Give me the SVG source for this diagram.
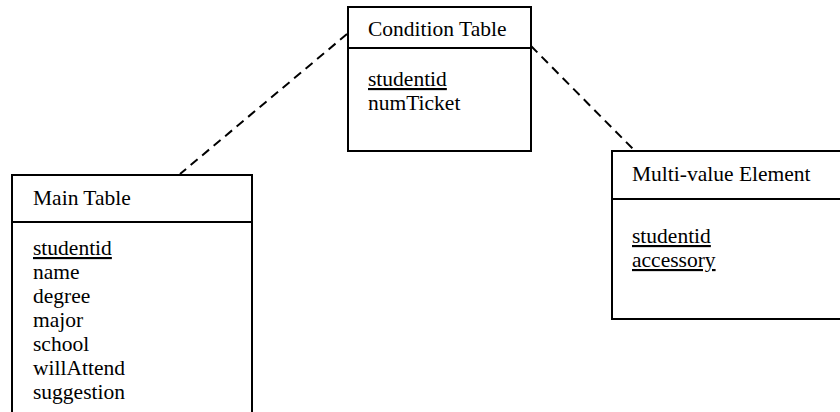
<svg xmlns="http://www.w3.org/2000/svg" width="840" height="412" viewBox="0 0 840 412">
<style>
.box{fill:#fff;stroke:#000;stroke-width:2}
.div{stroke:#000;stroke-width:2}
.t{font-family:"Liberation Serif","Times New Roman",serif;font-size:21.5px;fill:#000}
.u{text-decoration:underline}
.c{stroke:#000;stroke-width:2;stroke-dasharray:9 6;fill:none}
</style>
<rect width="840" height="412" fill="#fff"/>
<g id="connectors">
<line class="c" x1="347" y1="34" x2="180" y2="174"/>
<line class="c" x1="531" y1="46" x2="635" y2="151"/>
</g>
<g id="condition-table">
<rect class="box" x="348" y="7" width="183" height="144"/>
<line class="div" x1="348" y1="48" x2="531" y2="48"/>
<text class="t" x="368" y="36">Condition Table</text>
<text class="t u" x="368" y="86">studentid</text>
<text class="t" x="368" y="110">numTicket</text>
</g>
<g id="main-table">
<rect class="box" x="12" y="175" width="240" height="260"/>
<line class="div" x1="12" y1="222" x2="252" y2="222"/>
<text class="t" x="33" y="205">Main Table</text>
<text class="t u" x="33" y="255">studentid</text>
<text class="t" x="33" y="279">name</text>
<text class="t" x="33" y="303">degree</text>
<text class="t" x="33" y="327">major</text>
<text class="t" x="33" y="351">school</text>
<text class="t" x="33" y="375">willAttend</text>
<text class="t" x="33" y="399">suggestion</text>
</g>
<g id="multi-value-element">
<rect class="box" x="612" y="151" width="240" height="168"/>
<line class="div" x1="612" y1="199" x2="852" y2="199"/>
<text class="t" x="632" y="181">Multi-value Element</text>
<text class="t u" x="632" y="243">studentid</text>
<text class="t u" x="632" y="267">accessory</text>
</g>
</svg>
